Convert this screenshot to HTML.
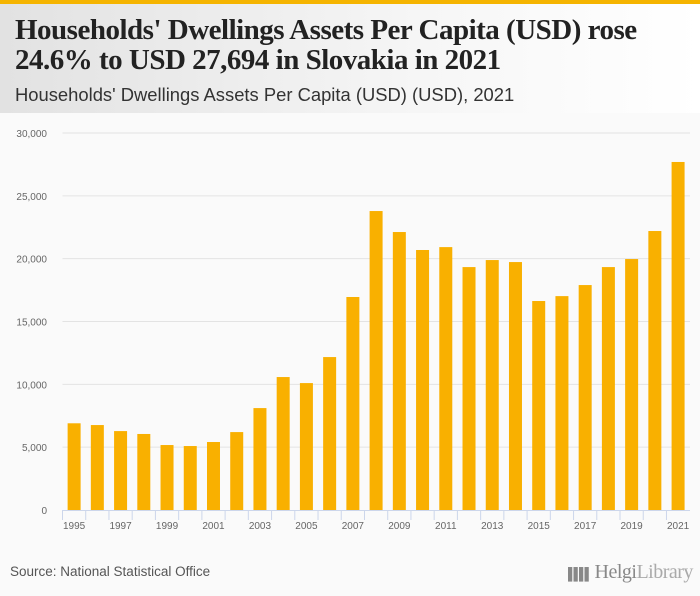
<!DOCTYPE html>
<html><head><meta charset="utf-8"><style>
html,body{margin:0;width:700px;height:596px;overflow:hidden}
body{background:#fafafa;font-family:"Liberation Sans",sans-serif;position:relative}
#hdr{position:absolute;left:0;top:0;width:700px;height:113px;background:linear-gradient(90deg,#e2e2e2,#f6f6f6 60%,#fff);border-top:4px solid #f5b400;box-sizing:border-box}
#t{position:absolute;left:15px;top:11px;font-family:"Liberation Serif",serif;font-size:29px;line-height:30px;color:#222;font-weight:bold;letter-spacing:-0.5px;white-space:nowrap}
#st{position:absolute;left:15px;top:80px;font-size:18.4px;color:#333;white-space:nowrap}
#src{position:absolute;left:10px;top:564px;font-size:13.5px;color:#555}
#logo{position:absolute;left:568px;top:561px;font-family:"Liberation Serif",serif;font-size:20px;color:#888;letter-spacing:-0.5px;white-space:nowrap;line-height:22px}
svg{position:absolute;left:0;top:0}
</style></head><body>
<div id="hdr">
<div id="t">Households' Dwellings Assets Per Capita (USD) rose<br>24.6% to USD 27,694 in Slovakia in 2021</div>
<div id="st">Households' Dwellings Assets Per Capita (USD) (USD), 2021</div>
</div>
<svg id="c" width="700" height="596"></svg>
<div id="src">Source: National Statistical Office</div>
<div id="logo"><span style="font-size:12px;letter-spacing:-3px">▌▌▌▌</span> Helgi<span style="color:#aaa">Library</span></div>
<script>
const years=[1995,1996,1997,1998,1999,2000,2001,2002,2003,2004,2005,2006,2007,2008,2009,2010,2011,2012,2013,2014,2015,2016,2017,2018,2019,2020,2021];
const values=[6900,6760,6280,6050,5170,5090,5410,6200,8110,10580,10100,12170,16950,23790,22120,20690,20920,19330,19890,19730,16630,17020,17900,19330,19970,22200,27694];
const yTicks=[0,5000,10000,15000,20000,25000,30000];
const yTickLabels=["0","5,000","10,000","15,000","20,000","25,000","30,000"];
const ns="http://www.w3.org/2000/svg",svg=document.getElementById('c');
const x0=62.5,bw=(689.7-62.5)/years.length,y0=510,yTop=133,yMax=30000;
const xs=i=>x0+i*bw, ys=v=>y0-(v/yMax)*(y0-yTop);
function mk(t,a){const e=document.createElementNS(ns,t);for(const k in a)e.setAttribute(k,a[k]);svg.appendChild(e);return e;}
yTicks.forEach((v,i)=>{
 if(v>0){const l=mk('line',{x1:x0,x2:690,y1:ys(v),y2:ys(v),stroke:'#e3e3e3','stroke-width':1});
 
 }
 const t=mk('text',{x:47,y:ys(v)+4,'text-anchor':'end','font-size':10,fill:'#666','font-family':'Liberation Sans,sans-serif'});
 t.textContent=yTickLabels[i];
 
 
});
const ax=mk('line',{x1:x0,x2:690,y1:y0+0.5,y2:y0+0.5,stroke:'#ccd6eb'});


years.forEach((yr,i)=>{
 const tk=mk('line',{x1:xs(i),x2:xs(i),y1:y0,y2:y0+10,stroke:'#ccd6eb'});
 
 
 const b=mk('rect',{x:xs(i)+bw/2-6.5,y:ys(values[i]),width:13,height:y0-ys(values[i]),fill:'#f9b000'});
 
 
 if(i%2==0){const t=mk('text',{x:xs(i)+bw/2,y:y0+19,'text-anchor':'middle','font-size':10,fill:'#666','font-family':'Liberation Sans,sans-serif'});
 t.textContent=yr;
 
 }
});
</script>
</body></html>
